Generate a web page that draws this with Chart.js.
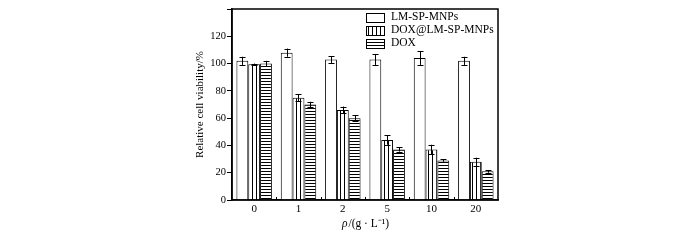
<!DOCTYPE html>
<html><head><meta charset="utf-8">
<script src="https://cdn.jsdelivr.net/npm/chart.js@4/dist/chart.umd.min.js"></script>
<style>html,body{margin:0;padding:0;background:#fff;}#wrap{width:700px;height:240px;}</style>
</head><body><div id="wrap"><canvas id="c" width="700" height="240"></canvas></div>
<script>
const categories = ['0','1','2','5','10','20'];
const seriesNames = ['LM-SP-MNPs','DOX@LM-SP-MNPs','DOX'];
const lmValues = [102,108,103,103,104,102];
const lmErrors = [3,3,2.5,4,5,3];
const doxLmValues = [99.5,75,66,44,37,28];
const doxLmErrors = [0.5,2.5,2.5,3.5,3.5,3];
const doxValues = [100,70,60,37,29,21];
const doxErrors = [2,2,2,1.5,1,1];
const yTicks = [0,20,40,60,80,100,120];
const xTitleSymbol = 'ρ';
const xTitleRest = '/(g · L⁻¹)';

function makePattern(dir){
  const c = document.createElement('canvas');
  const s = dir==='v'?4:3;
  c.width = s; c.height = s;
  const g = c.getContext('2d');
  g.fillStyle='#fff'; g.fillRect(0,0,s,s);
  g.fillStyle='#000';
  if(dir==='v') g.fillRect(0,0,1,s); else g.fillRect(0,0,s,1);
  return g.createPattern(c,'repeat');
}
const ctx = document.getElementById('c').getContext('2d');
const fills = ['#ffffff', makePattern('v'), makePattern('h')];
const errs = [lmErrors, doxLmErrors, doxErrors];
const FONT = 'Liberation Serif';

const frame = {
  id:'frame',
  afterDatasetsDraw(chart){
    const {ctx, chartArea:a, scales} = chart;
    ctx.save();
    ctx.strokeStyle='#000'; ctx.lineWidth=1;
    chart.data.datasets.forEach((ds,di)=>{
      const meta = chart.getDatasetMeta(di);
      meta.data.forEach((el,i)=>{
        const v = ds.data[i], e = errs[di][i];
        const x = Math.round(el.x)+0.5;
        const y1 = scales.y.getPixelForValue(v+e), y2 = scales.y.getPixelForValue(v-e);
        ctx.beginPath();
        ctx.moveTo(x,y1); ctx.lineTo(x,y2);
        ctx.moveTo(x-3,Math.round(y1)+0.5); ctx.lineTo(x+3,Math.round(y1)+0.5);
        ctx.moveTo(x-3,Math.round(y2)+0.5); ctx.lineTo(x+3,Math.round(y2)+0.5);
        ctx.stroke();
      });
    });
    ctx.lineWidth=1.5;
    ctx.strokeRect(a.left, a.top, a.right-a.left, a.bottom-a.top);
    ctx.lineWidth=1;
    for(let i=1;i<categories.length;i++){
      const x = Math.round((scales.x.getPixelForValue(i-1)+scales.x.getPixelForValue(i))/2)+0.5;
      ctx.beginPath(); ctx.moveTo(x,a.bottom); ctx.lineTo(x,a.bottom-3); ctx.stroke();
    }
    // legend
    ctx.font = '11.5px "'+FONT+'"';
    ctx.textBaseline='middle';
    const tx = a.right-107, ly = a.top+8;
    chart.data.datasets.forEach((ds,di)=>{
      const y = ly + di*13;
      ctx.fillStyle = fills[di];
      ctx.fillRect(tx-25, y-4, 18, 9);
      ctx.strokeStyle='#000';
      ctx.strokeRect(tx-25+0.5, y-4+0.5, 18, 9);
      ctx.fillStyle='#000';
      ctx.fillText(ds.label, tx, y);
    });
    // x title with italic rho
    const fi = 'italic 11.5px "'+FONT+'"', fr = '11.5px "'+FONT+'"';
    ctx.font = fi; const w1 = ctx.measureText(xTitleSymbol).width;
    ctx.font = fr; const w2 = ctx.measureText(xTitleRest).width;
    const cx = (a.left+a.right)/2, sx = cx-(w1+w2)/2, ty = 224;
    ctx.textAlign='left';
    ctx.font = fi; ctx.fillText(xTitleSymbol, sx, ty);
    ctx.font = fr; ctx.fillText(xTitleRest, sx+w1+1, ty);
    ctx.restore();
  }
};

new Chart(ctx,{
  type:'bar',
  data:{
    labels:categories,
    datasets:[
      {label:seriesNames[0], data:lmValues, backgroundColor:fills[0], borderColor:'#000', borderWidth:1},
      {label:seriesNames[1], data:doxLmValues, backgroundColor:fills[1], borderColor:'#000', borderWidth:1},
      {label:seriesNames[2], data:doxValues, backgroundColor:fills[2], borderColor:'#000', borderWidth:1}
    ]
  },
  options:{
    responsive:false, animation:false,
    layout:{padding:{left:194,right:202,top:9,bottom:10}},
    categoryPercentage:0.8, barPercentage:1,
    plugins:{legend:{display:false}, tooltip:{enabled:false}},
    scales:{
      x:{
        grid:{display:false,drawTicks:false,tickLength:0},
        border:{display:true,color:'#000',width:1.5},
        ticks:{color:'#000',font:{family:FONT,size:11},padding:3},
        title:{display:false},
        afterFit(s){s.height=30;}
      },
      y:{
        min:0,max:140,
        afterBuildTicks(s){s.ticks = yTicks.concat([140]).map(v=>({value:v}));},
        grid:{drawOnChartArea:false,drawTicks:true,tickLength:5,color:'#000'},
        border:{display:true,color:'#000',width:1.5},
        ticks:{color:'#000',font:{family:FONT,size:10.5},padding:1,callback:(v)=>yTicks.includes(v)?v:''},
        title:{display:true,text:'Relative cell viability/%',color:'#000',font:{family:FONT,size:11},padding:{top:0,bottom:3}},
        afterFit(s){s.width=38;}
      }
    }
  },
  plugins:[frame]
});
</script>
</body></html>
